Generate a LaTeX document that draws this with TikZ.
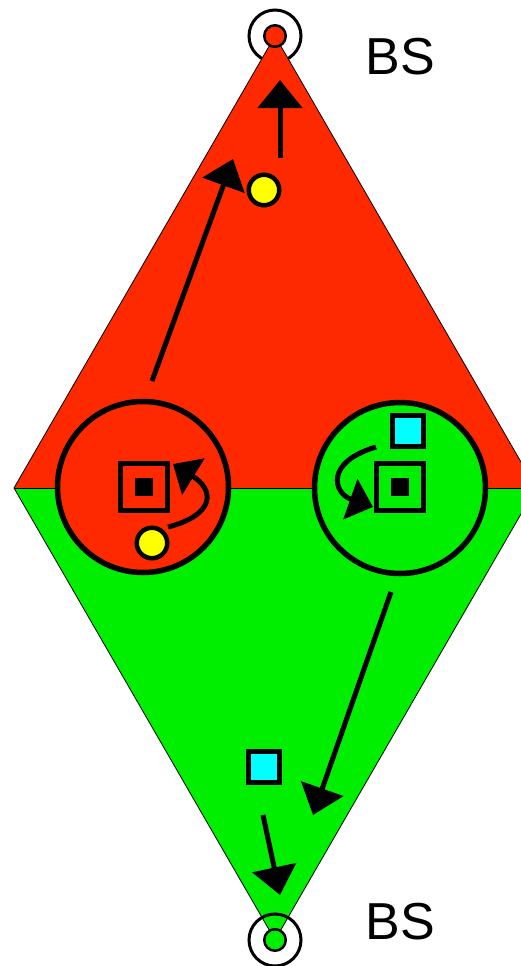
\documentclass[tikz,border=0pt]{standalone}
\usepackage{fontspec}
\setmainfont{Liberation Sans}
\usetikzlibrary{arrows.meta}
\definecolor{rd}{RGB}{255,41,0}
\definecolor{gr}{RGB}{0,238,0}
\definecolor{ye}{RGB}{255,255,0}
\definecolor{cy}{RGB}{0,255,255}
\begin{document}
\begin{tikzpicture}[x=1pt,y=-1pt,
  zone/.style={draw=black, line width=0.8pt},
  cell/.style={circle, draw=black, line width=5.5pt, minimum size=171pt, inner sep=0pt},
  term/.style={rectangle, draw=black, line width=5pt, minimum size=47pt, inner sep=0pt},
  core/.style={rectangle, fill=black, minimum size=18pt, inner sep=0pt},
  ue/.style={circle, draw=black, fill=ye, line width=4.5pt, minimum size=30.5pt, inner sep=0pt},
  pkt/.style={rectangle, draw=black, fill=cy, line width=5pt, minimum size=31pt, inner sep=0pt},
  bigarrow/.style={line width=5pt, -{Triangle[length=28pt,width=44pt]}},
  curvearrow/.style={line width=5pt, -{Triangle[length=24pt,width=42pt]}},
  ring/.style={circle, draw=black, line width=3pt, minimum size=52pt, inner sep=0pt},
  bsdot/.style={circle, draw=black, line width=2.5pt, minimum size=21.5pt, inner sep=0pt},
  lbl/.style={font=\fontsize{52}{60}\selectfont, inner sep=0pt}
]
\useasboundingbox (0,0) rectangle (521,966);
\clip (0,0) rectangle (521,966);
% top base station ring (behind the cell)
\node[ring] (rT) at (275,36) {};
% diamond
\coordinate (vT) at (275,36);
\coordinate (vL) at (14,488);
\coordinate (vR) at (536,488);
\coordinate (vB) at (275,940);
\fill[rd] (vT) -- (vL) -- (vR) -- cycle;
\fill[gr] (vB) -- (vL) -- (vR) -- cycle;
\draw[zone] (vT) -- (vL) -- (vB) -- (vR) -- cycle;
\draw[zone] (vL) -- (vR);
% base station dots
\node[bsdot, fill=rd] (bT) at (275,36) {};
\node[ring] (rB) at (275,940) {};
\node[bsdot, fill=gr] (bB) at (275,940) {};
\node[lbl] (lT) at (400,57) {BS};
\node[lbl] (lB) at (400,921.5) {BS};
% handover cells
\node[cell, fill=rd] (cL) at (143,487) {};
\node[cell, fill=gr] (cR) at (400,488) {};
\node[term] (tL) at (144,487) {};
\node[core] (kL) at (144,487) {};
\node[term] (tR) at (400,487) {};
\node[core] (kR) at (400,487) {};
\node[ue] (uL) at (152,543) {};
\node[ue] (uT) at (264,190) {};
\node[pkt] (pR) at (408,431) {};
\node[pkt] (pB) at (264,767) {};
% arrow end points
\coordinate (a1s) at (152,381);
\coordinate (a1e) at (233,159);
\coordinate (a2s) at (280,158);
\coordinate (a2e) at (280,80);
\coordinate (a3s) at (391,592);
\coordinate (a3e) at (313,815);
\coordinate (a4s) at (263,815);
\coordinate (a4e) at (280,895);
\coordinate (c1s) at (168,527);
\coordinate (c1e) at (173,464);
\coordinate (c2s) at (376,447);
\coordinate (c2e) at (373,507);
\draw[bigarrow] (a1s) -- (a1e);
\draw[bigarrow] (a2s) -- (a2e);
\draw[bigarrow] (a3s) -- (a3e);
\draw[bigarrow] (a4s) -- (a4e);
\draw[curvearrow] (c1s) .. controls (215,515) and (215,490) .. (c1e);
\draw[curvearrow] (c2s) .. controls (325,462) and (333,493) .. (c2e);
\end{tikzpicture}
\end{document}
